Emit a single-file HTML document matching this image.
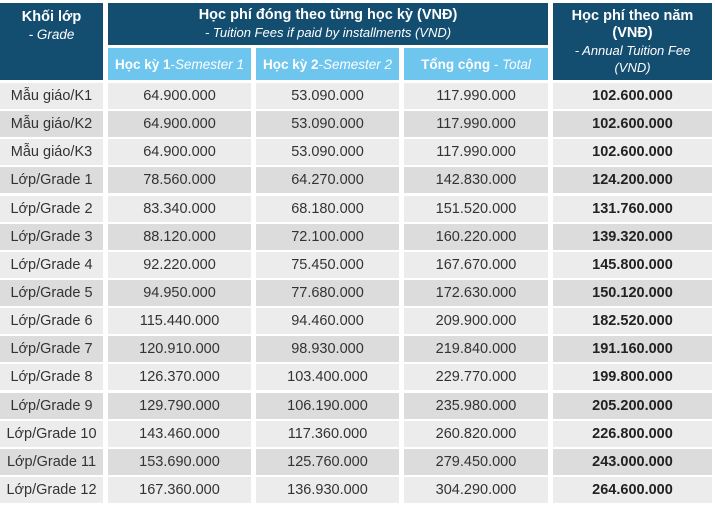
<!DOCTYPE html>
<html><head><meta charset="utf-8"><style>
body{margin:0;width:715px;height:507px;background:#fff;position:relative;overflow:hidden;font-family:"Liberation Sans","DejaVu Sans",sans-serif;}
.c{position:absolute;display:flex;align-items:center;justify-content:center;text-align:center;box-sizing:border-box;}
.h{background:#134d70;color:#fff;}
.s{background:#6ec6ee;color:#fff;font-size:13.5px;}
.d{font-size:14.5px;color:#333;}
.b{font-weight:bold;color:#222;}
i{font-weight:normal;}
</style></head><body>
<div class="c h" style="left:0;top:3px;width:103px;height:77px;flex-direction:column;justify-content:flex-start;padding-top:6px;font-size:14.5px;line-height:17px"><b>Khối lớp</b><i style="font-size:13.5px">- Grade</i></div>
<div class="c h" style="left:108px;top:3px;width:440px;height:42px;flex-direction:column;font-size:14.5px;line-height:17px"><b>Học phí đóng theo từng học kỳ (VNĐ)</b><i style="font-size:13px">- Tuition Fees if paid by installments (VND)</i></div>
<div class="c h" style="left:553px;top:3px;width:159px;height:77px;flex-direction:column;font-size:14.5px;line-height:17px"><b>Học phí theo năm</b><b>(VNĐ)</b><i style="font-size:13px">- Annual Tuition Fee</i><i style="font-size:13px">(VND)</i></div>
<div class="c s" style="left:108px;top:48px;width:143px;height:32px"><b>Học kỳ 1</b>-<i>Semester 1</i></div>
<div class="c s" style="left:256px;top:48px;width:143px;height:32px"><b>Học kỳ 2</b>-<i>Semester 2</i></div>
<div class="c s" style="left:404px;top:48px;width:144px;height:32px"><b>Tổng cộng</b>&nbsp;-&nbsp;<i>Total</i></div>
<div id="rows"></div>
<script>
var d=[["Mẫu giáo/K1","64.900.000","53.090.000","117.990.000","102.600.000"],
["Mẫu giáo/K2","64.900.000","53.090.000","117.990.000","102.600.000"],
["Mẫu giáo/K3","64.900.000","53.090.000","117.990.000","102.600.000"],
["Lớp/Grade 1","78.560.000","64.270.000","142.830.000","124.200.000"],
["Lớp/Grade 2","83.340.000","68.180.000","151.520.000","131.760.000"],
["Lớp/Grade 3","88.120.000","72.100.000","160.220.000","139.320.000"],
["Lớp/Grade 4","92.220.000","75.450.000","167.670.000","145.800.000"],
["Lớp/Grade 5","94.950.000","77.680.000","172.630.000","150.120.000"],
["Lớp/Grade 6","115.440.000","94.460.000","209.900.000","182.520.000"],
["Lớp/Grade 7","120.910.000","98.930.000","219.840.000","191.160.000"],
["Lớp/Grade 8","126.370.000","103.400.000","229.770.000","199.800.000"],
["Lớp/Grade 9","129.790.000","106.190.000","235.980.000","205.200.000"],
["Lớp/Grade 10","143.460.000","117.360.000","260.820.000","226.800.000"],
["Lớp/Grade 11","153.690.000","125.760.000","279.450.000","243.000.000"],
["Lớp/Grade 12","167.360.000","136.930.000","304.290.000","264.600.000"]];
var X=[[0,103],[108,143],[256,143],[404,144],[553,159]],h="";
d.forEach(function(r,i){var y=83+i*28.14,bg=i%2?"#dcdcdc":"#ececec";
r.forEach(function(t,j){h+='<div class="c d'+(j==4?' b':'')+'" style="left:'+X[j][0]+'px;top:'+y+'px;width:'+X[j][1]+'px;height:26px;background:'+bg+'">'+t+'</div>';});});
document.getElementById("rows").innerHTML=h;
</script>
</body></html>
